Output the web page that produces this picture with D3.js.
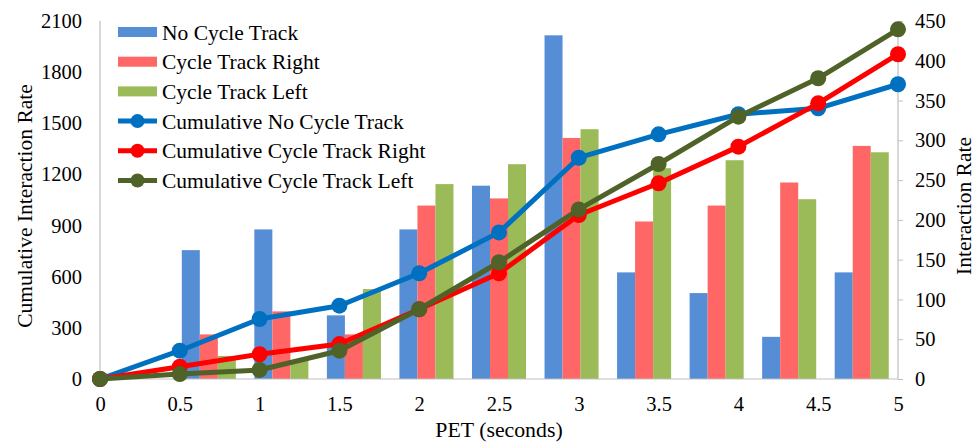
<!DOCTYPE html>
<html><head><meta charset="utf-8">
<script src="https://cdn.jsdelivr.net/npm/d3@7"></script>
<style>body{margin:0;background:#fff}svg{display:block}text{font-family:"Liberation Serif","Times New Roman",serif;fill:#000}</style>
</head><body><svg id="c" width="976" height="442"></svg>
<script>
const categories = ["0","0.5","1","1.5","2","2.5","3","3.5","4","4.5","5"];
const barNoCycle    = [0,162,188,80,188,243,432,134,108,53,134];
const barRight      = [0,56,85,56,218,227,303,198,218,247,293];
const barLeft       = [0,29,24,113,245,270,314,265,275,226,285];
const cumNoCycle    = [0,166,352,430,620,860,1298,1435,1553,1588,1729];
const cumRight      = [0,72,145,205,409,620,962,1148,1363,1617,1905];
const cumLeft       = [0,29,53,166,409,685,995,1261,1539,1764,2051];
const leftTicks  = [0,300,600,900,1200,1500,1800,2100];
const rightTicks = [0,50,100,150,200,250,300,350,400,450];

const barSeries = [
  {name:"No Cycle Track", values:barNoCycle, color:"#558ED5"},
  {name:"Cycle Track Right", values:barRight, color:"#FF6666"},
  {name:"Cycle Track Left", values:barLeft, color:"#9BBB59"}
];
const lineSeries = [
  {name:"Cumulative No Cycle Track", values:cumNoCycle, color:"#0070C0"},
  {name:"Cumulative Cycle Track Right", values:cumRight, color:"#FF0000"},
  {name:"Cumulative Cycle Track Left", values:cumLeft, color:"#4F6228"}
];

const svg = d3.select("#c");
const L=100, R=898, T=21, B=379;
const xPoint = d3.scalePoint().domain(categories).range([L,R]);
const xBand = d3.scaleBand().domain(categories).range([L,R]).paddingInner(0.255).paddingOuter(0.1275);
const xSub = d3.scaleBand().domain(barSeries.map(d=>d.name)).range([0,xBand.bandwidth()]);
const yL = d3.scaleLinear().domain([0,2100]).range([B,T]);
const yR = d3.scaleLinear().domain([0,450]).range([B,T]);

const axisColor="#BFBFBF";
svg.append("line").attr("x1",L).attr("x2",L).attr("y1",T).attr("y2",B).attr("stroke",axisColor).attr("stroke-width",1.2);
svg.append("line").attr("x1",R).attr("x2",R).attr("y1",T).attr("y2",B).attr("stroke",axisColor).attr("stroke-width",1.2);

const rAxis = d3.axisRight(yR).tickValues(rightTicks).tickSize(5).tickPadding(12).tickFormat(d3.format("d"));
const rg = svg.append("g").attr("transform",`translate(${R},0)`).call(rAxis);
rg.select(".domain").remove();
rg.selectAll(".tick line").attr("stroke",axisColor);
rg.selectAll(".tick text").attr("font-size",20.5).style("font-family","Liberation Serif");

const lAxis = d3.axisLeft(yL).tickValues(leftTicks).tickSize(0).tickPadding(18).tickFormat(d3.format("d"));
const lg = svg.append("g").attr("transform",`translate(${L},0)`).call(lAxis);
lg.select(".domain").remove();
lg.selectAll(".tick text").attr("font-size",20.5).style("font-family","Liberation Serif");

barSeries.forEach(s=>{
  svg.append("g").selectAll("rect").data(categories.map((c,i)=>({c,v:s.values[i]}))).join("rect")
    .attr("x",d=>xBand(d.c)+xSub(s.name)).attr("width",xSub.bandwidth())
    .attr("y",d=>yR(d.v)).attr("height",d=>B-yR(d.v)).attr("fill",s.color);
});

svg.append("line").attr("x1",L).attr("x2",R).attr("y1",B).attr("y2",B).attr("stroke",axisColor).attr("stroke-width",1.2);
const bAxis = d3.axisBottom(xPoint).tickSize(0).tickPadding(17);
const bg = svg.append("g").attr("transform",`translate(0,${B})`).call(bAxis);
bg.select(".domain").remove();
bg.selectAll(".tick text").attr("font-size",20.5).style("font-family","Liberation Serif");

lineSeries.forEach(s=>{
  const line = d3.line().x((d,i)=>xPoint(categories[i])).y(d=>yL(d));
  svg.append("path").datum(s.values).attr("d",line).attr("fill","none").attr("stroke",s.color).attr("stroke-width",5).attr("stroke-linejoin","round");
  svg.append("g").selectAll("circle").data(s.values).join("circle")
    .attr("cx",(d,i)=>xPoint(categories[i])).attr("cy",d=>yL(d)).attr("r",8).attr("fill",s.color);
});

svg.append("text").attr("transform",`translate(32,206) rotate(-90)`).attr("text-anchor","middle").attr("font-size",21.5).text("Cumulative Interaction Rate");
svg.append("text").attr("transform",`translate(971,206) rotate(-90)`).attr("text-anchor","middle").attr("font-size",21.5).text("Interaction Rate");
svg.append("text").attr("x",(L+R)/2).attr("y",437).attr("text-anchor","middle").attr("font-size",21.8).text("PET (seconds)");

const legY0=32, legDy=29.7, swX=118, swW=39, txX=162;
const lgd = svg.append("g");
barSeries.forEach((s,i)=>{
  const y=legY0+i*legDy;
  lgd.append("rect").attr("x",swX).attr("y",y-5).attr("width",swW).attr("height",10).attr("fill",s.color);
  lgd.append("text").attr("x",txX).attr("y",y).attr("dy","0.35em").attr("font-size",21.5).text(s.name);
});
lineSeries.forEach((s,i)=>{
  const y=legY0+(i+3)*legDy;
  lgd.append("line").attr("x1",swX).attr("x2",swX+swW).attr("y1",y).attr("y2",y).attr("stroke",s.color).attr("stroke-width",5);
  lgd.append("circle").attr("cx",swX+swW/2).attr("cy",y).attr("r",7).attr("fill",s.color);
  lgd.append("text").attr("x",txX).attr("y",y).attr("dy","0.35em").attr("font-size",21.5).text(s.name);
});
</script></body></html>
